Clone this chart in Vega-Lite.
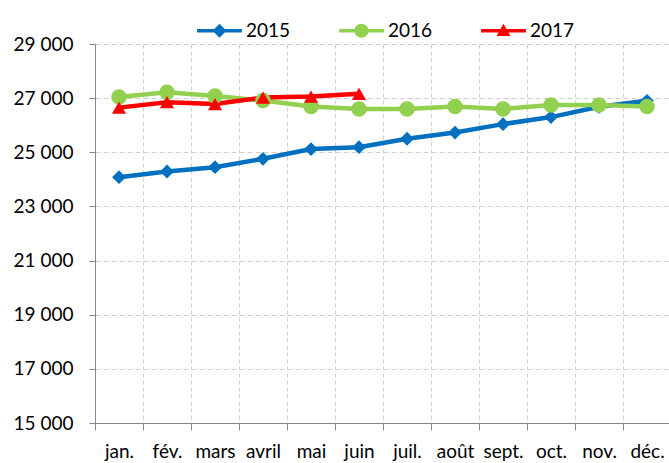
{
  "$schema": "https://vega.github.io/schema/vega-lite/v6.json",
  "width": 576,
  "height": 379,
  "autosize": "none",
  "padding": {"left": 95, "top": 44, "right": 0, "bottom": 40},
  "background": "white",
  "config": {
    "view": {"stroke": null},
    "locale": {"number": {"decimal": ",", "thousands": " ", "grouping": [3], "currency": ["", " €"]}},
    "font": "Lato",
    "axis": {"labelFont": "Lato", "labelFontSize": 19, "labelColor": "#000000", "titleFont": "Lato"},
    "legend": {"labelFont": "Lato", "labelFontSize": 19, "labelColor": "#000000"}
  },
  "data": {
    "values": [
      {"month": "jan.", "year": "2015", "value": 24080},
      {"month": "fév.", "year": "2015", "value": 24290},
      {"month": "mars", "year": "2015", "value": 24450},
      {"month": "avril", "year": "2015", "value": 24760},
      {"month": "mai", "year": "2015", "value": 25120},
      {"month": "juin", "year": "2015", "value": 25190},
      {"month": "juil.", "year": "2015", "value": 25500},
      {"month": "août", "year": "2015", "value": 25730},
      {"month": "sept.", "year": "2015", "value": 26040},
      {"month": "oct.", "year": "2015", "value": 26300},
      {"month": "nov.", "year": "2015", "value": 26680},
      {"month": "déc.", "year": "2015", "value": 26900},
      {"month": "jan.", "year": "2016", "value": 27040},
      {"month": "fév.", "year": "2016", "value": 27220},
      {"month": "mars", "year": "2016", "value": 27080},
      {"month": "avril", "year": "2016", "value": 26910},
      {"month": "mai", "year": "2016", "value": 26690},
      {"month": "juin", "year": "2016", "value": 26600},
      {"month": "juil.", "year": "2016", "value": 26600},
      {"month": "août", "year": "2016", "value": 26690},
      {"month": "sept.", "year": "2016", "value": 26600},
      {"month": "oct.", "year": "2016", "value": 26750},
      {"month": "nov.", "year": "2016", "value": 26750},
      {"month": "déc.", "year": "2016", "value": 26690},
      {"month": "jan.", "year": "2017", "value": 26650},
      {"month": "fév.", "year": "2017", "value": 26850},
      {"month": "mars", "year": "2017", "value": 26780},
      {"month": "avril", "year": "2017", "value": 27020},
      {"month": "mai", "year": "2017", "value": 27060},
      {"month": "juin", "year": "2017", "value": 27160}
    ]
  },
  "encoding": {
    "x": {
      "field": "month",
      "type": "nominal",
      "sort": ["jan.", "fév.", "mars", "avril", "mai", "juin", "juil.", "août", "sept.", "oct.", "nov.", "déc."],
      "scale": {"type": "band", "paddingInner": 0, "paddingOuter": 0},
      "axis": {
        "title": null,
        "labelAngle": 0,
        "tickBand": "extent",
        "domainColor": "#868686",
        "tickColor": "#868686",
        "tickSize": 7,
        "labelPadding": 12,
        "grid": true,
        "gridColor": "#d0d0d0",
        "gridDash": [4, 3],
        "gridWidth": 1
      }
    },
    "y": {
      "field": "value",
      "type": "quantitative",
      "scale": {"domain": [15000, 29000], "nice": false, "zero": false},
      "axis": {
        "title": null,
        "values": [15000, 17000, 19000, 21000, 23000, 25000, 27000, 29000],
        "format": ",d",
        "domainColor": "#868686",
        "tickColor": "#868686",
        "tickSize": 6,
        "labelPadding": 16,
        "grid": true,
        "gridColor": "#cfcfcf",
        "gridDash": [5, 3],
        "gridWidth": 1
      }
    },
    "color": {
      "field": "year",
      "type": "nominal",
      "scale": {"domain": ["2015", "2016", "2017"], "range": ["#0070C0", "#92D050", "#FF0000"]},
      "legend": {
        "title": null,
        "orient": "none",
        "direction": "horizontal",
        "legendX": 115,
        "legendY": -23,
        "padding": 0,
        "symbolSize": 196,
        "symbolStrokeWidth": 0,
        "symbolOpacity": 1,
        "labelOffset": 17,
        "columnPadding": 48
      }
    }
  },
  "layer": [
    {
      "mark": {"type": "line", "strokeWidth": 4.5},
      "encoding": {"detail": {"field": "year"}}
    },
    {
      "mark": {"type": "point", "filled": true, "opacity": 0, "strokeWidth": 0, "size": 196},
      "encoding": {
        "shape": {
          "field": "year",
          "type": "nominal",
          "scale": {"domain": ["2015", "2016", "2017"], "range": ["M-3.2,-0.24H3.2V0.24H-3.2Z M0,-1L1,0L0,1L-1,0Z", "M-3.2,-0.24H3.2V0.24H-3.2Z M1,0A1,1 0 1,1 -1,0A1,1 0 1,1 1,0Z", "M-3.2,-0.24H3.2V0.24H-3.2Z M0,-1L1,0.75L-1,0.75Z"]},
          "legend": {
            "title": null,
            "orient": "none",
            "direction": "horizontal",
            "legendX": 115,
            "legendY": -23,
            "padding": 0,
            "symbolSize": 196,
            "symbolStrokeWidth": 0,
            "symbolOpacity": 1,
            "labelOffset": 17,
            "columnPadding": 48
          }
        }
      }
    },
    {
      "transform": [{"filter": "datum.year === '2015'"}],
      "mark": {"type": "point", "filled": true, "opacity": 1, "strokeWidth": 0, "shape": "diamond", "size": 190}
    },
    {
      "transform": [{"filter": "datum.year === '2016'"}],
      "mark": {"type": "point", "filled": true, "opacity": 1, "strokeWidth": 0, "shape": "circle", "size": 240}
    },
    {
      "transform": [{"filter": "datum.year === '2017'"}],
      "mark": {"type": "point", "filled": true, "opacity": 1, "strokeWidth": 0, "shape": "triangle-up", "size": 200}
    }
  ]
}
